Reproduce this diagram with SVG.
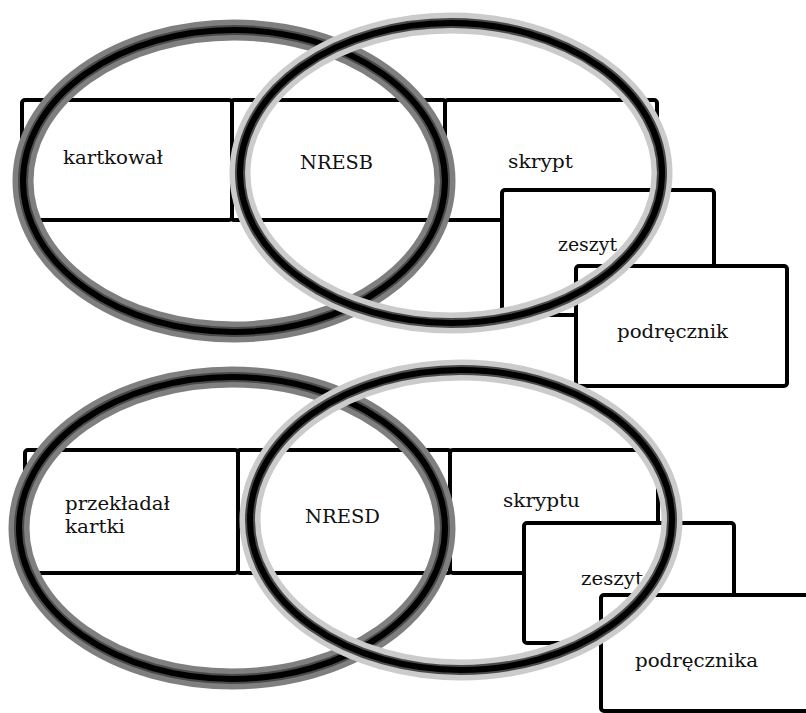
<svg xmlns="http://www.w3.org/2000/svg" width="806" height="713" viewBox="0 0 806 713">
<style>
.box{fill:#fff;stroke:#000;stroke-width:4;}
.t{font-family:"DejaVu Serif","Liberation Serif",serif;font-size:18px;fill:#111;}
.ring{fill:none;}
.dk1{stroke:#7f7f7f;stroke-width:21;}
.lt1{stroke:#cbcbcb;stroke-width:21;}
.mid{stroke:#4a4a4a;stroke-width:10;}
.core{stroke:#000;stroke-width:6;}
</style>
<rect width="806" height="713" fill="#fff"/>
<g id="top-row">
<rect class="box" x="22" y="100" width="210" height="120" rx="3"/>
<rect class="box" x="232" y="100" width="213" height="120" rx="2"/>
<rect class="box" x="445" y="100" width="212" height="120" rx="3"/>
<text class="t" x="63" y="164" textLength="100" lengthAdjust="spacingAndGlyphs">kartkował</text>
<text class="t" x="300" y="169" textLength="73" lengthAdjust="spacingAndGlyphs">NRESB</text>
<text class="t" x="508" y="168" textLength="65" lengthAdjust="spacingAndGlyphs">skrypt</text>
</g>
<g id="top-zeszyt">
<rect class="box" x="502" y="190" width="212" height="125" rx="3"/>
<text class="t" x="558" y="251" textLength="59" lengthAdjust="spacingAndGlyphs">zeszyt</text>
</g>
<g id="top-podrecznik">
<rect class="box" x="576" y="266" width="211" height="120" rx="3"/>
<text class="t" x="617" y="338" textLength="111" lengthAdjust="spacingAndGlyphs">podręcznik</text>
</g>
<g id="bottom-row">
<rect class="box" x="25" y="450" width="213" height="123" rx="3"/>
<rect class="box" x="238" y="450" width="212" height="123" rx="2"/>
<rect class="box" x="450" y="450" width="208" height="123" rx="3"/>
<text class="t" x="65" y="510" textLength="105" lengthAdjust="spacingAndGlyphs">przekładał</text>
<text class="t" x="65" y="533" textLength="60" lengthAdjust="spacingAndGlyphs">kartki</text>
<text class="t" x="305" y="523" textLength="75" lengthAdjust="spacingAndGlyphs">NRESD</text>
<text class="t" x="503" y="507" textLength="77" lengthAdjust="spacingAndGlyphs">skryptu</text>
</g>
<g id="bottom-zeszyt">
<rect class="box" x="524" y="523" width="210" height="120" rx="3"/>
<text class="t" x="581" y="585" textLength="62" lengthAdjust="spacingAndGlyphs">zeszyt</text>
</g>
<g id="bottom-podrecznika">
<rect class="box" x="601" y="595" width="230" height="116" rx="3"/>
<text class="t" x="635" y="667" textLength="123" lengthAdjust="spacingAndGlyphs">podręcznika</text>
</g>
<g id="ring-top-left">
<ellipse class="ring dk1" cx="234" cy="181" rx="211" ry="151"/>
<ellipse class="ring mid" cx="234" cy="181" rx="211" ry="151"/>
<ellipse class="ring core" cx="234" cy="181" rx="211" ry="151"/>
</g>
<g id="ring-top-right">
<ellipse class="ring lt1" cx="451" cy="173" rx="211" ry="150"/>
<ellipse class="ring mid" cx="451" cy="173" rx="211" ry="150"/>
<ellipse class="ring core" cx="451" cy="173" rx="211" ry="150"/>
</g>
<g id="ring-bottom-left">
<ellipse class="ring dk1" cx="232" cy="528" rx="213" ry="151"/>
<ellipse class="ring mid" cx="232" cy="528" rx="213" ry="151"/>
<ellipse class="ring core" cx="232" cy="528" rx="213" ry="151"/>
</g>
<g id="ring-bottom-right">
<ellipse class="ring lt1" cx="461" cy="520" rx="211" ry="150"/>
<ellipse class="ring mid" cx="461" cy="520" rx="211" ry="150"/>
<ellipse class="ring core" cx="461" cy="520" rx="211" ry="150"/>
</g>
</svg>
